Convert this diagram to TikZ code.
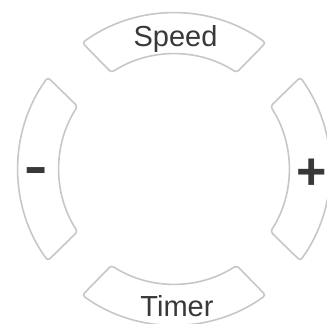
\documentclass[tikz,border=0pt]{standalone}
\usepackage{fontspec}
\setmainfont{Liberation Sans}
\usetikzlibrary{calc}
\begin{document}
\begin{tikzpicture}[x=1pt,y=1pt,
  segline/.style={draw=black!22, line width=1.6pt, rounded corners=3pt, fill=white},
  lbl/.style={text=black!78, font=\fontsize{29}{30}\selectfont, inner sep=0pt}]
\useasboundingbox (0,0) rectangle (327,324);
\clip (0,0) rectangle (327,324);
\coordinate (C) at (174,155);
\def\Ro{156}
\def\Ri{115}
\foreach \a/\nm in {90/top,0/right,270/bottom,180/left}{
  \draw[segline] ($(C)+(\a-36:\Ro)$) coordinate (\nm o)
     arc[start angle=\a-36, end angle=\a+36, radius=\Ro]
     -- ($(C)+(\a+33:\Ri)$)
     arc[start angle=\a+33, end angle=\a-33, radius=\Ri] -- cycle;
}
\node[lbl, anchor=base] (speed) at (175.5,277) {Speed};
\node[lbl, anchor=base] (timer) at (177,7) {Timer};
\node[lbl, anchor=base, font=\fontsize{52}{52}\selectfont\bfseries] (plus) at (311.5,134) {+};
\node[lbl, anchor=base, font=\fontsize{50}{50}\selectfont\bfseries] (minus) at (36,140) {\scalebox{1.4}[1]{-}};
\end{tikzpicture}
\end{document}
